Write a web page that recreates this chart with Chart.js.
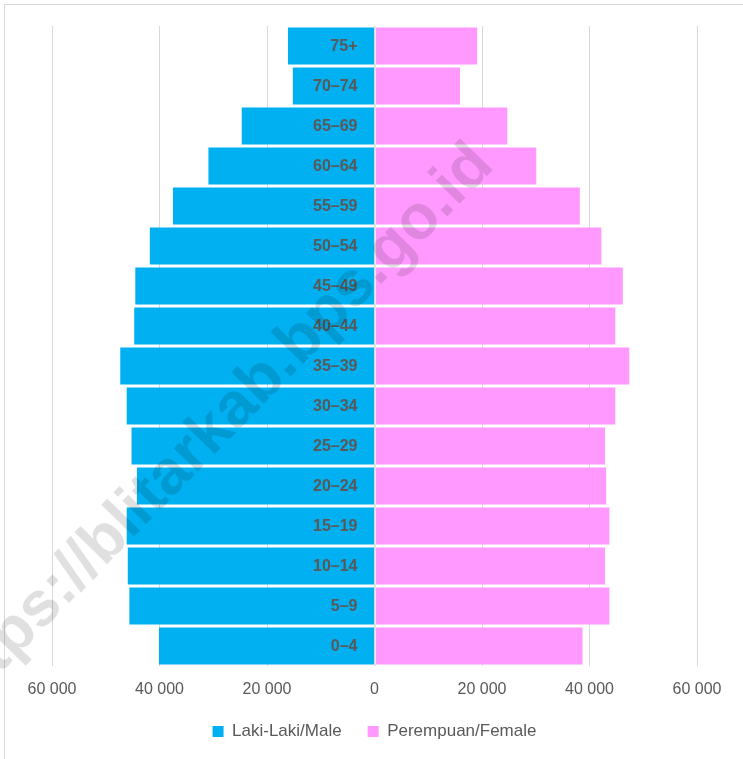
<!DOCTYPE html>
<html>
<head>
<meta charset="utf-8">
<script src="https://cdn.jsdelivr.net/npm/chart.js@4/dist/chart.umd.min.js"></script>
<style>
  html, body { margin: 0; padding: 0; background: #ffffff; overflow: hidden; }
  #wrap { position: relative; width: 743px; height: 759px; overflow: hidden; }
  #frame { position: absolute; left: 4px; top: 4px; width: 760px; height: 770px; border: 1px solid #d9d9d9; box-sizing: border-box; }
  canvas { position: absolute; left: 0; top: 0; }
</style>
</head>
<body>
<div id="wrap">
  <div id="frame"></div>
  <canvas id="c" width="743" height="759"></canvas>
</div>
<script>
// Age groups, top to bottom
const categories = ["75+", "70\u201374", "65\u201369", "60\u201364", "55\u201359", "50\u201354", "45\u201349", "40\u201344",
                    "35\u201339", "30\u201334", "25\u201329", "20\u201324", "15\u201319", "10\u201314", "5\u20139", "0\u20134"];
// Population (persons)
const maleValues   = [16100, 15200, 24700, 30900, 37500, 41800, 44500, 44700, 47300, 46100, 45200, 44200, 46100, 45900, 45600, 40100];
const femaleValues = [19100, 15900, 24700, 30100, 38200, 42200, 46200, 44800, 47400, 44800, 42900, 43100, 43700, 42900, 43700, 38700];
const xTicks = [-60000, -40000, -20000, 0, 20000, 40000, 60000];
const seriesNames = ["Laki-Laki/Male", "Perempuan/Female"];
const watermarkText = "https://blitarkab.bps.go.id";

const FONT = "'Liberation Sans', Arial, sans-serif";

function fmt(v) {
  const s = String(Math.abs(Math.round(v)));
  return s.replace(/\B(?=(\d{3})+(?!\d))/g, "\u00a0");
}

// Category labels drawn on top of the bars, right-aligned to the zero line
const centerLabels = {
  id: 'centerLabels',
  afterDatasetsDraw(chart) {
    const ctx = chart.ctx;
    const y = chart.scales.y, x = chart.scales.x;
    const x0 = x.getPixelForValue(0);
    ctx.save();
    ctx.strokeStyle = "#e6e6e6";
    ctx.lineWidth = 1;
    ctx.beginPath();
    ctx.moveTo(Math.round(x0) + 0.5, chart.chartArea.top);
    ctx.lineTo(Math.round(x0) + 0.5, chart.chartArea.bottom);
    ctx.stroke();
    ctx.font = "bold 16px " + FONT;
    ctx.fillStyle = "#595959";
    ctx.textAlign = "right";
    ctx.textBaseline = "middle";
    chart.data.labels.forEach((lab, i) => {
      ctx.fillText(lab, x0 - 17, y.getPixelForValue(i) + 1);
    });
    ctx.restore();
  }
};

const watermark = {
  id: 'watermark',
  afterDraw(chart) {
    const ctx = chart.ctx;
    ctx.save();
    ctx.translate(214, 430);
    ctx.rotate(-45.6 * Math.PI / 180);
    ctx.font = "bold 63px 'Liberation Sans', Arial, sans-serif";
    ctx.fillStyle = "rgba(0,0,0,0.12)";
    ctx.textAlign = "center";
    ctx.textBaseline = "middle";
    ctx.fillText(watermarkText, 0, 0);
    ctx.restore();
  }
};

new Chart(document.getElementById('c'), {
  type: 'bar',
  data: {
    labels: categories,
    datasets: [
      { label: seriesNames[0], data: maleValues.map(v => -v), backgroundColor: '#00b0f0', borderWidth: 0,
        barPercentage: 0.93, categoryPercentage: 1.0 },
      { label: seriesNames[1], data: femaleValues, backgroundColor: '#ff99ff', borderWidth: 0,
        barPercentage: 0.93, categoryPercentage: 1.0 }
    ]
  },
  options: {
    indexAxis: 'y',
    responsive: false,
    animation: false,
    devicePixelRatio: 1,
    layout: { padding: { left: 52, right: 46, top: 26, bottom: 9 } },
    plugins: {
      tooltip: { enabled: false },
      legend: {
        position: 'bottom',
        labels: {
          boxWidth: 11, boxHeight: 11, padding: 26,
          color: '#595959',
          font: { family: FONT, size: 17 }
        }
      }
    },
    scales: {
      x: {
        stacked: true,
        min: -60000, max: 60000,
        afterBuildTicks(scale) { scale.ticks = xTicks.map(v => ({ value: v })); },
        afterFit(scale) { scale.height = 31; },
        ticks: {
          color: '#595959',
          font: { family: FONT, size: 16 },
          padding: 14,
          maxRotation: 0,
          callback: (v) => fmt(v)
        },
        grid: { color: '#d9d9d9', drawTicks: false },
        border: { display: false }
      },
      y: {
        stacked: true,
        display: false
      }
    }
  },
  plugins: [centerLabels, watermark]
});
</script>
</body>
</html>
